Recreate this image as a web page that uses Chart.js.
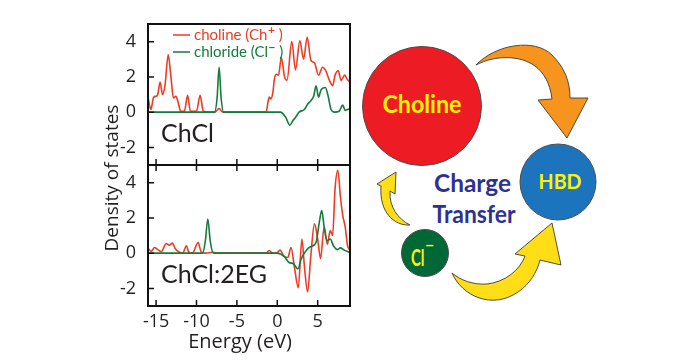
<!DOCTYPE html>
<html>
<head>
<meta charset="utf-8">
<script src="https://cdn.jsdelivr.net/npm/chart.js@4"></script>
<style>
  html, body { margin: 0; padding: 0; background: #fff; }
  #wrap { position: relative; width: 700px; height: 360px; overflow: hidden; font-family: Lato, sans-serif; }
  canvas { position: absolute; left: 0; top: 0; }
  svg { position: absolute; left: 0; top: 0; }
</style>
</head>
<body>
<div id="wrap">
  <svg width="700" height="360" viewBox="0 0 700 360" font-family="Lato, sans-serif" font-weight="bold">
    <!-- arrows first, circles on top -->
    <path d="M476,65 C496,44 535,38 552,55 C565,68 570,82 570,98 L588,98 L567,138 L538,100 L552,99 C550,82 543,72 535,66 C520,55 495,55 476,65 Z"
          fill="#f7941d" stroke="#3a3a3a" stroke-width="0.9"/>
    <path d="M410,225 C394,226 379,212 381,186 L377,184 L396,172 L395,194 L390,191 C389,207 398,219 410,225 Z"
          fill="#ffde17" stroke="#3a3a3a" stroke-width="0.9"/>
    <path d="M452,273 C462,296 492,310 518,292 C530,284 537,272 540,260 L561,265 L552,223 L515,254 L525,256 C520,270 505,282 487,284 C473,285 460,280 452,273 Z"
          fill="#ffde17" stroke="#3a3a3a" stroke-width="0.9"/>
    <circle cx="422" cy="106" r="59.5" fill="#ed1c24" stroke="#4d4d4d" stroke-width="1"/>
    <circle cx="558" cy="182" r="38" fill="#1c75bc" stroke="#4d4d4d" stroke-width="1"/>
    <circle cx="425" cy="253" r="23.5" fill="#006837" stroke="#4d4d4d" stroke-width="1"/>
    <text x="422" y="113" text-anchor="middle" font-size="25" textLength="79" lengthAdjust="spacingAndGlyphs" fill="#fff200">Choline</text>
    <text x="560" y="188.5" text-anchor="middle" font-size="20" textLength="43" lengthAdjust="spacingAndGlyphs" fill="#fff200">HBD</text>
    <text x="411" y="266" font-size="22" fill="#fff200"><tspan textLength="13.5" lengthAdjust="spacingAndGlyphs">Cl</tspan><tspan x="425" y="251" font-size="16">−</tspan></text>
    <text x="472.5" y="191.5" text-anchor="middle" font-size="25" textLength="77" lengthAdjust="spacingAndGlyphs" fill="#2e3192">Charge</text>
    <text x="474" y="222.5" text-anchor="middle" font-size="25" textLength="83" lengthAdjust="spacingAndGlyphs" fill="#2e3192">Transfer</text>
  </svg>
  <canvas id="topPanel" width="360" height="170"></canvas>
  <canvas id="botPanel" width="360" height="360"></canvas>
</div>

<script>
// Axis ticks
const energyTicks = [-15, -10, -5, 0, 5];
const dosTicks = [-2, 0, 2, 4];

// ChCl: choline (Ch+)
const chclCholineE = [-16, -15.65, -15.3, -15.0, -14.8, -14.5, -14.2, -13.9, -13.5, -13.2, -12.85, -12.55, -12.3,
  -11.95, -11.5, -11.1, -10.75, -10.0, -9.55, -9.15, -7.7, -7.2, -6.75, -1.4, -1.0, -0.8, -0.55, -0.35, -0.1,
  0.15, 0.5, 0.9, 1.2, 1.8, 2.25, 2.8, 3.25, 3.7, 4.15, 4.6, 5.1, 5.6, 6.0, 6.45, 6.85, 7.15, 7.55, 7.9, 8.35, 8.6, 9.0];
const chclCholineDos = [0.85, 0.15, 0.85, 0.9, 1.0, 1.7, 1.0, 1.5, 3.25, 2.2, 0.8, 0.9, 0.6,
  0.05, 0.05, 0.95, 0.05, 0.05, 0.95, 0.05, 0.0, 0.2, 0.0, 0.0, 0.85, 0.75, 1.1, 1.9, 2.15,
  2.1, 3.1, 2.0, 1.8, 4.0, 2.4, 4.05, 3.0, 4.25, 2.95, 2.8, 2.1, 2.55, 2.35, 1.8, 1.5, 2.1, 2.35, 1.8, 2.1, 1.9, 1.7];

// ChCl: chloride (Cl-)
const chclChlorideE = [-16, -7.75, -7.45, -7.2, -6.95, -6.65, 0.4, 1.05, 1.55, 1.9, 2.25, 2.7, 3.35, 3.75,
  4.15, 4.5, 4.8, 5.1, 5.4, 5.95, 6.3, 6.65, 7.1, 7.65, 8.1, 8.4, 9.0];
const chclChlorideDos = [0, 0, 0.8, 2.55, 0.8, 0, 0, -0.3, -0.74, -0.5, -0.3, 0, 0.15, 0.45,
  0.65, 0.9, 1.5, 0.85, 1.25, 1.4, 0.9, 0.15, 0.0, 0.05, 0.4, 0.1, 0.2];

// ChCl:2EG: choline (Ch+)
const egCholineE = [-16, -15.6, -15.2, -14.8, -14.35, -13.75, -13.35, -13.0, -12.6, -12.1, -11.7, -11.25, -10.95,
  -10.5, -9.8, -9.4, -8.9, -7.95, -7.5, -1.4, -1.0, -0.6, -0.1, 0.35, 0.85, 1.3, 1.7, 2.1, 2.6, 3.05, 3.35,
  3.75, 4.15, 4.6, 5.0, 5.35, 5.8, 6.2, 6.55, 6.85, 7.15, 7.5, 7.8, 8.1, 8.4, 8.7, 9.0];
const egCholineDos = [0.27, 0.1, 0.32, 0.2, 0.08, 0.55, 0.45, 0.57, 0.23, 0.05, 0.0, 0.42, 0.05,
  0.0, 0.6, 0.05, 0.0, 0.05, 0.0, 0.0, 0.15, 0.0, 0.0, 0.17, -0.2, -0.25, 0.32, -0.72, -1.96, 0.8, -0.7,
  -2.2, -0.15, 1.66, 0.8, -0.3, 1.47, 0.5, 1.28, 1.0, 3.66, 4.7, 3.27, 2.13, 1.5, 0.42, 0.15];

// ChCl:2EG: chloride (Cl-)
const egChlorideE = [-16, -9.25, -8.9, -8.6, -8.3, -7.9, 0.0, 0.85, 1.45, 2.0, 2.55, 2.95, 3.35, 3.95,
  4.4, 4.8, 5.2, 5.5, 5.8, 6.15, 6.55, 6.95, 7.45, 7.8, 8.3, 9.0];
const egChlorideDos = [0, 0, 0.7, 1.94, 0.7, 0, 0, -0.19, -0.53, -0.6, -0.9, -0.35, 0.0, 0.32,
  0.42, 0.61, 1.75, 2.42, 1.5, 0.7, 0.8, 0.42, 0.2, 0.3, 0.17, 0.04];

const RED = '#ef3b24';
const GREEN = '#137b3b';
const INK = '#231f20';

function points(xs, ys) {
  return xs.map((x, i) => ({ x: x, y: ys[i] }));
}

// frame, inward ticks, panel label, axis titles and the in-plot legend
const framePlugin = {
  id: 'frame',
  afterDatasetsDraw(chart, args, opts) {
    const { ctx, chartArea: a, scales: { x, y } } = chart;
    ctx.save();
    ctx.strokeStyle = '#111';
    ctx.lineWidth = 1.5;
    ctx.beginPath();
    energyTicks.forEach(v => {
      const px = x.getPixelForValue(v);
      ctx.moveTo(px, a.bottom); ctx.lineTo(px, a.bottom - 6);
      if (opts.topTicks) { ctx.moveTo(px, a.top); ctx.lineTo(px, a.top + 6); }
    });
    dosTicks.forEach(v => {
      const py = y.getPixelForValue(v);
      ctx.moveTo(a.left, py); ctx.lineTo(a.left + 6, py);
    });
    ctx.stroke();
    ctx.lineWidth = 2;
    ctx.strokeRect(a.left, a.top, a.width, a.height);

    ctx.fillStyle = INK;
    ctx.font = '25px Lato';
    ctx.textBaseline = 'alphabetic';
    ctx.fillText(opts.label, a.left + 13, a.bottom - 23);

    if (opts.xTitle) {
      ctx.font = '20px "Open Sans"';
      ctx.textAlign = 'center';
      ctx.textBaseline = 'middle';
      ctx.fillText(opts.xTitle, x.getPixelForValue(-4.6), a.bottom + 36);
      // shared y title spans both panels
      ctx.font = '19px "Open Sans"';
      ctx.translate(113, 178);
      ctx.rotate(-Math.PI / 2);
      ctx.fillText(opts.yTitle, 0, 0);
      ctx.setTransform(1, 0, 0, 1, 0, 0);
      ctx.textAlign = 'left';
    }

    if (opts.legend) {
      ctx.textBaseline = 'middle';
      ctx.lineWidth = 1.5;
      chart.data.datasets.forEach((ds, i) => {
        const yy = a.top + 11 + i * 17;
        ctx.strokeStyle = ds.borderColor;
        ctx.beginPath();
        ctx.moveTo(a.left + 25, yy); ctx.lineTo(a.left + 42, yy);
        ctx.stroke();
        ctx.fillStyle = ds.borderColor;
        const m = ds.label.match(/^(.*?)([+−])(.*)$/);
        let tx = a.left + 46;
        ctx.font = '15px Lato';
        ctx.fillText(m[1], tx, yy);
        tx += ctx.measureText(m[1]).width + 0.5;
        ctx.font = 'bold 12px Lato';
        ctx.fillText(m[2], tx, yy - 5);
        tx += ctx.measureText(m[2]).width;
        ctx.font = '15px Lato';
        ctx.fillText(m[3], tx, yy);
      });
    }
    ctx.restore();
  }
};

function makePanel(id, cholE, cholD, chlE, chlD, showX, label) {
  const tickFont = { family: '"Open Sans"', size: 18 };
  new Chart(document.getElementById(id), {
    type: 'line',
    data: {
      datasets: [
        { label: 'choline (Ch+ )', data: points(cholE, cholD), borderColor: RED, order: 1 },
        { label: 'chloride (Cl− )', data: points(chlE, chlD), borderColor: GREEN, order: 0 }
      ]
    },
    options: {
      responsive: false,
      animation: false,
      layout: { padding: showX ? { left: 0, right: 10, top: 165, bottom: 0 } : { left: 0, right: 10, top: 24, bottom: 5 } },
      elements: {
        line: { borderWidth: 1.6, cubicInterpolationMode: 'monotone', fill: false },
        point: { radius: 0 }
      },
      plugins: {
        legend: { display: false },
        tooltip: { enabled: false },
        frame: {
          label: label, topTicks: showX, legend: !showX,
          xTitle: showX ? 'Energy (eV)' : '', yTitle: 'Density of states'
        }
      },
      scales: {
        x: {
          type: 'linear', min: -16, max: 9,
          afterBuildTicks: s => { s.ticks = energyTicks.map(v => ({ value: v })); },
          grid: { display: false }, border: { display: false },
          ticks: { display: showX, font: tickFont, color: INK, padding: -3, maxRotation: 0, autoSkip: false },
          afterFit: s => { s.height = showX ? 54 : 0; s.paddingLeft = 0; s.paddingRight = 0; }
        },
        y: {
          min: -3, max: 5,
          afterBuildTicks: s => { s.ticks = dosTicks.map(v => ({ value: v })); },
          grid: { display: false }, border: { display: false },
          ticks: { font: tickFont, color: INK, padding: 4, autoSkip: false },
          afterFit: s => { s.width = 148; s.paddingTop = 0; s.paddingBottom = 0; }
        }
      }
    },
    plugins: [framePlugin]
  });
}

makePanel('topPanel', chclCholineE, chclCholineDos, chclChlorideE, chclChlorideDos, false, 'ChCl');
makePanel('botPanel', egCholineE, egCholineDos, egChlorideE, egChlorideDos, true, 'ChCl:2EG');
</script>
</body>
</html>
